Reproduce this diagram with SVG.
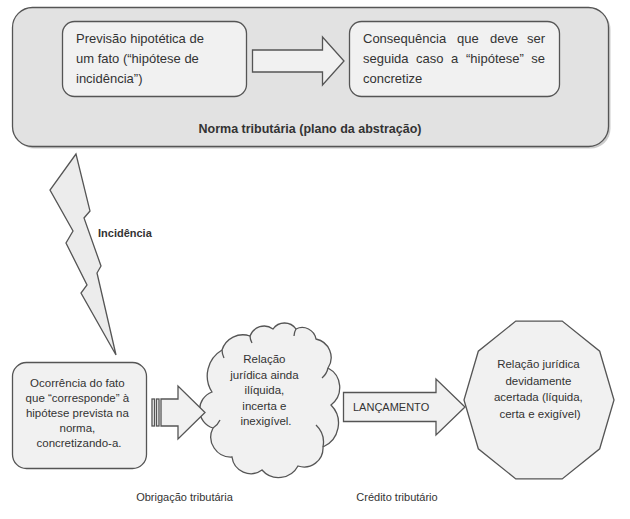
<svg xmlns="http://www.w3.org/2000/svg" width="630" height="519" viewBox="0 0 630 519">
<style>
  .t { font-family: "Liberation Sans", Arial, sans-serif; fill: #333; }
  .s13 { font-size: 13px; }
  .s115 { font-size: 11.5px; }
  .b { font-weight: bold; }
  .shape { stroke: #555; stroke-width: 1.3; }
  .light { fill: #f1f1f1; }
  .c { text-anchor: middle; }
</style>
<rect width="630" height="519" fill="#ffffff"/>

<g id="norma">
  <rect x="14.5" y="9.5" width="596" height="139" rx="20" fill="#9a9a9a" opacity="0.5"/>
  <rect x="12.5" y="7.5" width="596" height="139" rx="20" fill="#e2e2e2" class="shape"/>
  <text x="310" y="133" class="t b c" font-size="12.5">Norma tributária (plano da abstração)</text>
</g>

<g id="hipotese">
  <rect x="62.5" y="21.5" width="184" height="75" rx="12" class="shape light"/>
  <text class="t s13">
    <tspan x="76" y="43">Previsão hipotética de</tspan>
    <tspan x="76" y="63">um fato (“hipótese de</tspan>
    <tspan x="76" y="83">incidência”)</tspan>
  </text>
</g>

<g id="consequencia">
  <rect x="349.5" y="21.5" width="210" height="75" rx="12" class="shape light"/>
  <text class="t s13" y="43">
    <tspan x="363" y="43">Consequência</tspan><tspan x="457" y="43">que</tspan><tspan x="490" y="43">deve</tspan>
  </text>
  <text class="t s13" x="545" y="43" text-anchor="end">ser</text>
  <text class="t s13">
    <tspan x="363" y="63">seguida</tspan><tspan x="416" y="63">caso</tspan><tspan x="451" y="63">a</tspan><tspan x="466" y="63">“hipótese”</tspan>
  </text>
  <text class="t s13" x="545" y="63" text-anchor="end">se</text>
  <text class="t s13" x="363" y="83">concretize</text>
</g>

<g id="ocorrencia">
  <rect x="12.5" y="362.5" width="134" height="106" rx="14" class="shape light"/>
  <text class="t s115 c">
    <tspan x="79" y="387">Ocorrência do fato</tspan>
    <tspan x="79" y="402">que “corresponde” à</tspan>
    <tspan x="79" y="417">hipótese prevista na</tspan>
    <tspan x="79" y="432">norma,</tspan>
    <tspan x="79" y="447">concretizando-a.</tspan>
  </text>
</g>

<g id="obrigacao">
  <path class="shape light" d="M212,392 A30,30 0 0 1 222,350 A22,22 0 0 1 250,336 A15,15 0 0 1 273,329 A14,14 0 0 1 296,329 A14,14 0 0 1 316,339 A19,19 0 0 1 328,368 A22,22 0 0 1 331,405 A26,26 0 0 1 323,447 A19,19 0 0 1 298,466 A22,22 0 0 1 262,470 A19,19 0 0 1 232,457 A20,20 0 0 1 213,428 A19,19 0 0 1 212,392 Z"/>
  <path fill="none" class="shape" d="M222,350 A20,20 0 0 0 224,358 M250,336 A15,15 0 0 0 252,343 M296,329 A14,14 0 0 0 294,336 M328,368 A18,18 0 0 1 322,378 M323,447 A24,24 0 0 0 316,425 M213,428 A18,18 0 0 0 220,420"/>
  <text class="t s115 c">
    <tspan x="266" y="363">Relação</tspan>
    <tspan x="266" y="378.5">jurídica ainda</tspan>
    <tspan x="266" y="394">ilíquida,</tspan>
    <tspan x="266" y="409.5">incerta e</tspan>
    <tspan x="266" y="425">inexigível.</tspan>
  </text>
</g>

<g id="credito">
  <polygon class="shape light" points="614,400 599.7,351.2 562.2,321.1 515.8,321.1 478.3,351.2 464,400 478.3,448.8 515.8,478.9 562.2,478.9 599.7,448.8"/>
  <text class="t s115 c">
    <tspan x="540" y="368">Relação jurídica</tspan>
    <tspan x="540" y="384.5">devidamente</tspan>
    <tspan x="540" y="401">acertada (líquida,</tspan>
    <tspan x="540" y="417.5">certa e exigível)</tspan>
  </text>
</g>

<g id="incidencia">
  <polygon class="shape" fill="#ececec" points="76,154 50,190 73,231 66,243 87,285 81,293 116,355 97,273 101,266 84,218 90,211"/>
  <text x="98" y="237" class="t b" font-size="11">Incidência</text>
</g>

<g id="connectors">
  <polygon class="shape light" points="252.5,50 322.5,50 322.5,37 344,61 322.5,85 322.5,72 252.5,72"/>
  <rect x="152" y="399" width="2.5" height="27" class="shape light"/>
  <rect x="156.5" y="399" width="2.5" height="27" class="shape light"/>
  <polygon class="shape light" points="161,399 178,399 178,386 205,412.5 178,439 178,426 161,426"/>
  <polygon class="shape light" points="343.5,392.5 436,392.5 436,379 465,407 436,435 436,421.5 343.5,421.5"/>
  <text x="353" y="411" class="t" font-size="11">LANÇAMENTO</text>
</g>

<g id="labels">
  <text x="184.5" y="501" class="t c" font-size="11">Obrigação tributária</text>
  <text x="397" y="501" class="t c" font-size="11">Crédito tributário</text>
</g>
</svg>
